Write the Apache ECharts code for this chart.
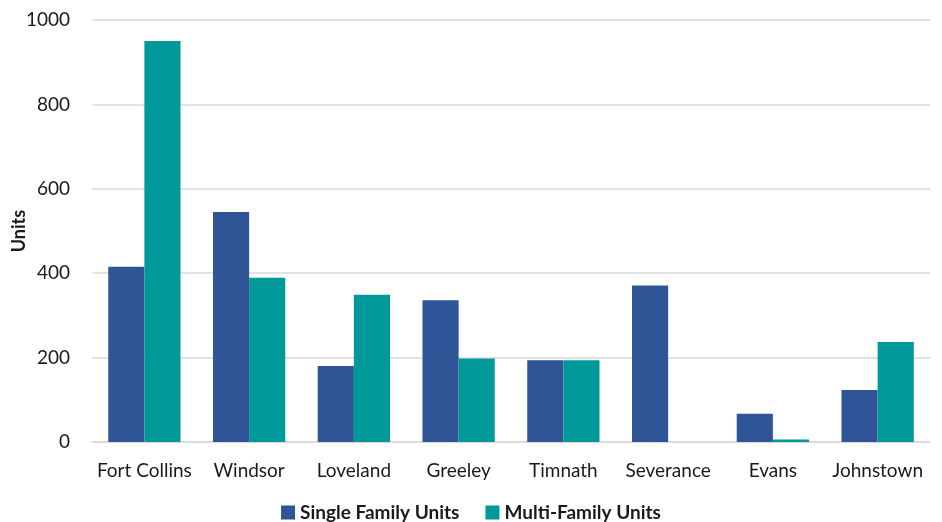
<!DOCTYPE html>
<html>
<head>
<meta charset="utf-8">
<script src="https://cdn.jsdelivr.net/npm/echarts@6/dist/echarts.min.js"></script>
<style>
  html, body { margin: 0; padding: 0; background: #ffffff; }
  #chart { width: 942px; height: 522px; }
</style>
</head>
<body>
<div id="chart"></div>
<script>
// Housing units permitted by town
const towns = ['Fort Collins', 'Windsor', 'Loveland', 'Greeley', 'Timnath', 'Severance', 'Evans', 'Johnstown'];
const singleFamily = [415, 545, 180, 336, 194, 371, 67, 123];
const multiFamily = [950, 389, 349, 198, 194, 0, 6, 237];
const yTicks = { min: 0, max: 1000, interval: 200 };

const FONT = 'Lato, "Liberation Sans", sans-serif';

const chart = echarts.init(document.getElementById('chart'), null, { renderer: 'canvas' });
chart.setOption({
  animation: false,
  textStyle: { fontFamily: FONT },
  grid: { left: 92, right: 12, top: 20, bottom: 80, containLabel: false, outerBoundsMode: 'none' },
  legend: {
    top: 498,
    left: 'center',
    itemWidth: 14,
    itemHeight: 14,
    itemGap: 26,
    icon: 'rect',
    textStyle: { fontFamily: FONT, fontSize: 19, fontWeight: 'bold', color: '#1a1a1a' },
    data: ['Single Family Units', 'Multi-Family Units']
  },
  xAxis: {
    type: 'category',
    data: towns,
    axisLine: { show: true, lineStyle: { color: '#d9d9d9', width: 1.5 } },
    axisTick: { show: false },
    axisLabel: { interval: 0, color: '#1a1a1a', fontSize: 19, margin: 19, fontFamily: FONT }
  },
  yAxis: {
    type: 'value',
    min: yTicks.min,
    max: yTicks.max,
    interval: yTicks.interval,
    name: 'Units',
    nameLocation: 'middle',
    nameGap: 64,
    nameMoveOverlap: false,
    nameRotate: 90,
    nameTextStyle: { fontSize: 18, fontWeight: 'bold', color: '#1a1a1a', fontFamily: FONT },
    axisLine: { show: false },
    axisTick: { show: false },
    axisLabel: { color: '#1a1a1a', fontSize: 19, margin: 22, fontFamily: FONT, formatter: v => String(v) },
    splitLine: { lineStyle: { color: '#d9d9d9', width: 1.5 } }
  },
  series: [
    {
      name: 'Single Family Units',
      type: 'bar',
      data: singleFamily,
      barGap: '0%',
      barCategoryGap: '31%',
      itemStyle: { color: '#2f5597' }
    },
    {
      name: 'Multi-Family Units',
      type: 'bar',
      data: multiFamily,
      barGap: '0%',
      barCategoryGap: '31%',
      itemStyle: { color: '#009999' }
    }
  ]
});
</script>
</body>
</html>
